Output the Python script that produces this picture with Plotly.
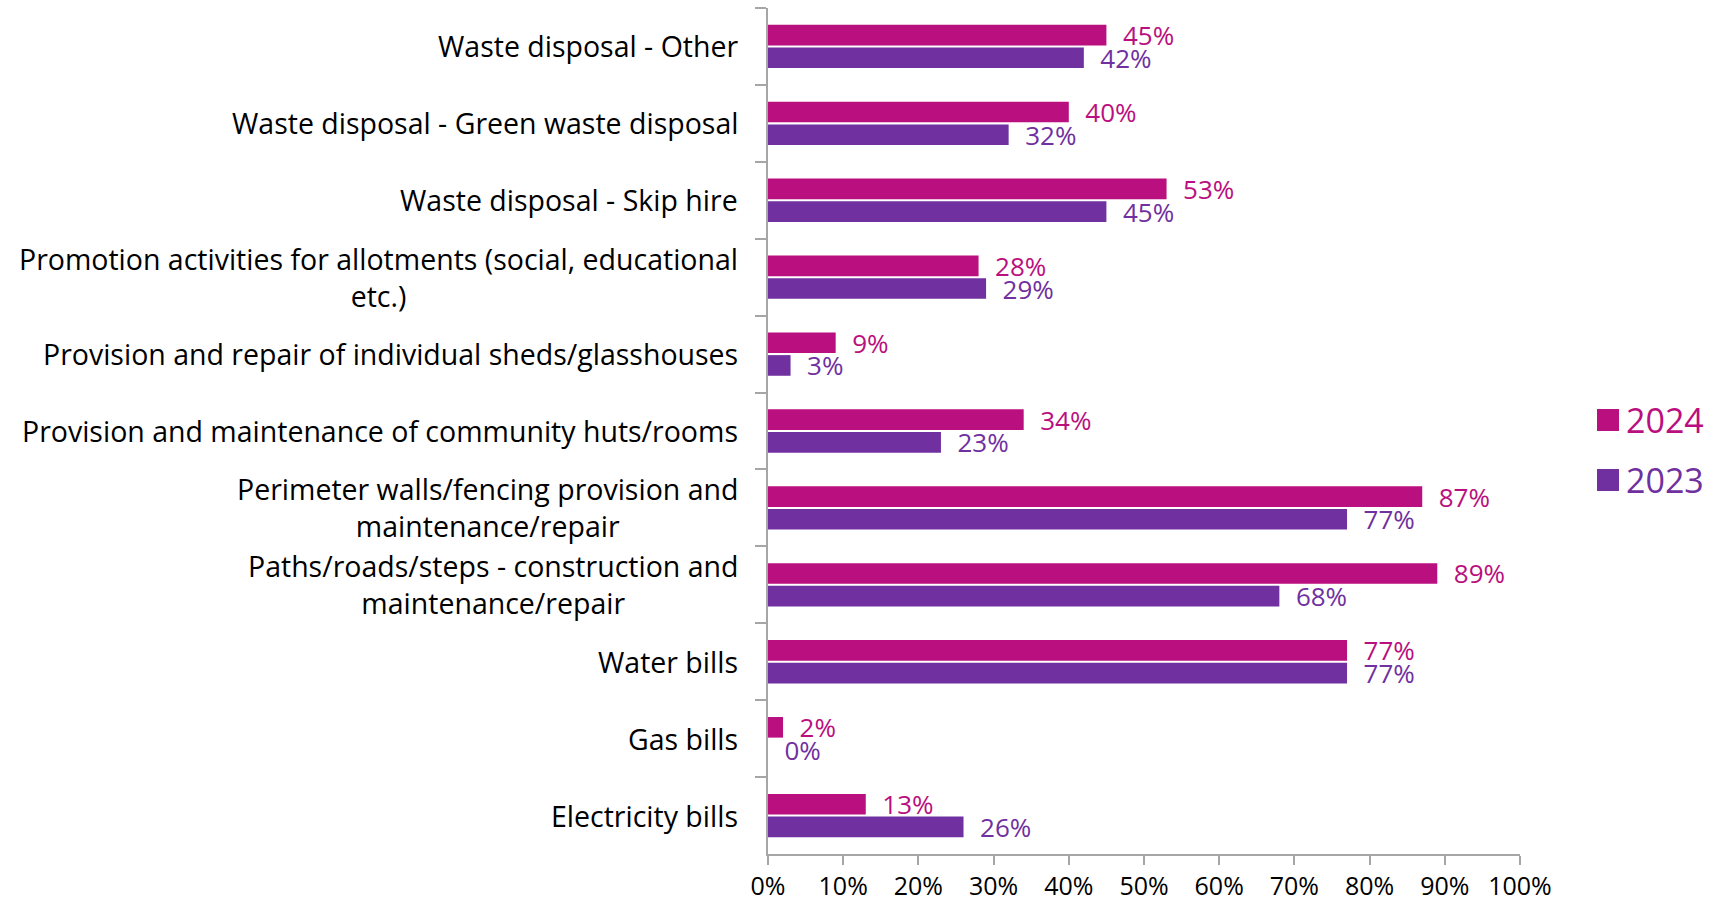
import plotly.graph_objects as go

categories = [
    "Waste disposal - Other",
    "Waste disposal - Green waste disposal",
    "Waste disposal - Skip hire",
    "Promotion activities for allotments (social, educational<br>etc.)",
    "Provision and repair of individual sheds/glasshouses",
    "Provision and maintenance of community huts/rooms",
    "Perimeter walls/fencing provision and<br>maintenance/repair",
    "Paths/roads/steps - construction and<br>maintenance/repair",
    "Water bills",
    "Gas bills",
    "Electricity bills",
]
values_2024 = [0.45, 0.40, 0.53, 0.28, 0.09, 0.34, 0.87, 0.89, 0.77, 0.02, 0.13]
values_2023 = [0.42, 0.32, 0.45, 0.29, 0.03, 0.23, 0.77, 0.68, 0.77, 0.00, 0.26]
series_names = ["2024", "2023"]
series_colors = ["#BA0F7E", "#7030A0"]
x_ticks = [i / 10 for i in range(11)]

FONT = "Open Sans"
W, H = 1727, 900
L, R, T, B = 768, 207, 8, 46

fig = go.Figure()
for name, vals, color in zip(series_names, [values_2024, values_2023], series_colors):
    fig.add_trace(go.Bar(
        y=categories, x=vals, name=name, orientation="h",
        marker=dict(color=color, line=dict(width=0)),
        text=["  " + f"{v:.0%}" for v in vals],
        textposition="outside",
        constraintext="none",
        textfont=dict(family=FONT, size=26, color=color),
        cliponaxis=False,
        showlegend=False,
    ))

# category labels, centred line-by-line and right-aligned to the axis
annotations = []
for cat in categories:
    annotations.append(dict(
        x=0, y=cat, xref="paper", yref="y", xanchor="right", yanchor="middle",
        xshift=-28, text=cat, showarrow=False, align="center",
        font=dict(family=FONT, size=28.5, color="#000000"),
    ))

# legend: coloured squares with coloured year labels
plot_w = W - L - R
plot_h = H - T - B
shapes = []
legend_y_px = [420, 480]
for name, color, ypx in zip(series_names, series_colors, legend_y_px):
    yc = (H - B - ypx) / plot_h
    half = 11 / plot_h
    x0 = (1597 - L) / plot_w
    x1 = (1619 - L) / plot_w
    shapes.append(dict(type="rect", xref="paper", yref="paper",
                       x0=x0, x1=x1, y0=yc - half, y1=yc + half,
                       fillcolor=color, line=dict(width=0)))
    annotations.append(dict(
        x=(1624 - L) / plot_w, y=yc, xref="paper", yref="paper",
        xanchor="left", yanchor="middle", text=name, showarrow=False,
        font=dict(family=FONT, size=34, color=color),
    ))

fig.update_layout(
    width=W, height=H,
    margin=dict(l=L, r=R, t=T, b=B, pad=0, autoexpand=False),
    paper_bgcolor="white", plot_bgcolor="white",
    barmode="group", bargap=0.41, bargroupgap=0.09,
    showlegend=False,
    annotations=annotations, shapes=shapes,
    xaxis=dict(
        range=[0, 1], tickvals=x_ticks, tickformat=".0%",
        showgrid=False, zeroline=False, automargin=False,
        showline=True, linecolor="#A6A6A6", linewidth=2,
        ticks="outside", ticklen=9, tickwidth=2, tickcolor="#A6A6A6",
        ticklabelstandoff=0,
        tickfont=dict(family=FONT, size=25, color="#000000"),
    ),
    yaxis=dict(
        autorange="reversed", showticklabels=False, showgrid=False,
        zeroline=False, automargin=False,
        showline=True, linecolor="#A6A6A6", linewidth=2,
        ticks="outside", tickson="boundaries", ticklen=11, tickwidth=2,
        tickcolor="#A6A6A6",
    ),
)

fig.write_html("out.html")
